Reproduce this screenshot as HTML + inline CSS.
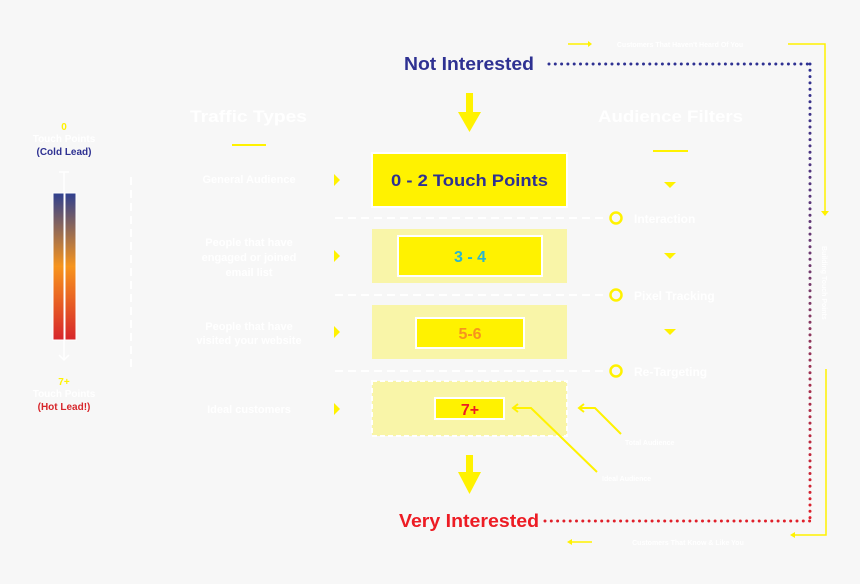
<!DOCTYPE html>
<html><head><meta charset="utf-8"><style>
html,body{margin:0;padding:0;background:#f7f7f7}
svg{display:block}
text{font-family:"Liberation Sans",sans-serif;font-weight:bold}
</style></head><body>
<svg width="860" height="584" viewBox="0 0 860 584" xmlns="http://www.w3.org/2000/svg">
<defs>
<linearGradient id="bar" x1="0" y1="0" x2="0" y2="1">
<stop offset="0" stop-color="#2e3f8f"/><stop offset="0.5" stop-color="#f7941d"/><stop offset="1" stop-color="#d7262b"/>
</linearGradient>
<linearGradient id="vd" gradientUnits="userSpaceOnUse" x1="0" y1="64" x2="0" y2="521">
<stop offset="0" stop-color="#2e3192"/><stop offset="0.5" stop-color="#7a3c6a"/><stop offset="1" stop-color="#e0202a"/>
</linearGradient>
</defs>
<rect width="860" height="584" fill="#f7f7f7"/>

<line x1="549" y1="64" x2="810" y2="64" stroke="#2e3192" stroke-width="3" stroke-dasharray="0 6.3" stroke-linecap="round"/>
<line x1="810" y1="64" x2="810" y2="521" stroke="url(#vd)" stroke-width="3" stroke-dasharray="0 6.3" stroke-linecap="round"/>
<line x1="545" y1="521" x2="810" y2="521" stroke="#e0202a" stroke-width="3" stroke-dasharray="0 6.3" stroke-linecap="round"/>

<text x="404" y="70" font-size="18" fill="#2e3192" textLength="130" lengthAdjust="spacingAndGlyphs">Not Interested</text>
<text x="399" y="527" font-size="18" fill="#ed1c24" textLength="140" lengthAdjust="spacingAndGlyphs">Very Interested</text>

<g fill="#fff200">
<rect x="466" y="93" width="7" height="24"/><polygon points="458,112 481,112 469.5,132"/>
<rect x="466" y="455" width="7" height="22"/><polygon points="458,472 481,472 469.5,494"/>
</g>

<text x="190" y="122" font-size="17" fill="#ffffff" textLength="117" lengthAdjust="spacingAndGlyphs">Traffic Types</text>
<text x="598" y="122" font-size="17" fill="#ffffff" textLength="145" lengthAdjust="spacingAndGlyphs">Audience Filters</text>
<rect x="232" y="144" width="34" height="2" fill="#fff200"/>
<rect x="653" y="150" width="35" height="2" fill="#fff200"/>

<g font-size="11" fill="#ffffff" text-anchor="middle">
<text x="249" y="183">General Audience</text>
<text x="249" y="246">People that have</text>
<text x="249" y="261">engaged or joined</text>
<text x="249" y="276">email list</text>
<text x="249" y="330">People that have</text>
<text x="249" y="344">visited your website</text>
<text x="249" y="413">Ideal customers</text>
</g>
<g fill="#fff200">
<polygon points="334,174 340,180 334,186"/>
<polygon points="334,250 340,256 334,262"/>
<polygon points="334,326 340,332 334,338"/>
<polygon points="334,403 340,409 334,415"/>
</g>

<g stroke="#ffffff" stroke-width="2" stroke-dasharray="8 5">
<line x1="335" y1="218" x2="606" y2="218"/>
<line x1="335" y1="295" x2="606" y2="295"/>
<line x1="335" y1="371" x2="606" y2="371"/>
<line x1="131" y1="177" x2="131" y2="368"/>
</g>

<rect x="372" y="153" width="195" height="54" fill="#fff200" stroke="#fff" stroke-width="2"/>
<text x="391" y="186" font-size="17" fill="#2e3192" textLength="157" lengthAdjust="spacingAndGlyphs">0 - 2 Touch Points</text>

<rect x="372" y="229" width="195" height="54" fill="#f9f5a8"/>
<rect x="398" y="236" width="144" height="40" fill="#fff200" stroke="#fff" stroke-width="2"/>
<text x="470" y="262" font-size="16" fill="#29b6d1" text-anchor="middle">3 - 4</text>

<rect x="372" y="305" width="195" height="54" fill="#f9f5a8"/>
<rect x="416" y="318" width="108" height="30" fill="#fff200" stroke="#fff" stroke-width="2"/>
<text x="470" y="339" font-size="16" fill="#f7941d" text-anchor="middle">5-6</text>

<rect x="372" y="381" width="195" height="55" fill="#f9f5a8" stroke="#fff" stroke-width="2" stroke-dasharray="5 3"/>
<rect x="435" y="398" width="69" height="21" fill="#fff200" stroke="#fff" stroke-width="2"/>
<text x="470" y="415" font-size="16" fill="#ed1c24" text-anchor="middle">7+</text>

<g fill="none" stroke="#fff200" stroke-width="2.5">
<circle cx="616" cy="218" r="5.5"/><circle cx="616" cy="295" r="5.5"/><circle cx="616" cy="371" r="5.5"/>
</g>
<g font-size="12" fill="#ffffff">
<text x="634" y="223">Interaction</text>
<text x="634" y="300">Pixel Tracking</text>
<text x="634" y="376">Re-Targeting</text>
</g>
<g fill="#fff200">
<polygon points="664,182 676,182 670,188"/>
<polygon points="664,253 676,253 670,259"/>
<polygon points="664,329 676,329 670,335"/>
</g>

<g fill="none" stroke="#fff200" stroke-width="2">
<polyline points="580,408 595,408 621,434"/>
<polyline points="584,404 579,408 584,412"/>
<polyline points="514,408 531,408 597,472"/>
<polyline points="518,404 513,408 518,412"/>
</g>
<text x="625" y="445" font-size="7" fill="#ffffff">Total Audience</text>
<text x="602" y="481" font-size="7" fill="#ffffff">Ideal Audience</text>

<g stroke="#fff200" stroke-width="1.5" fill="none">
<line x1="568" y1="44" x2="590" y2="44"/>
<polyline points="788,44 825,44 825,212"/>
<polyline points="826,369 826,535 792,535"/>
<line x1="569" y1="542" x2="592" y2="542"/>
</g>
<g fill="#fff200">
<polygon points="588,41 592,44 588,47"/>
<polygon points="821,211 829,211 825,216"/>
<polygon points="795,532 795,538 790,535"/>
<polygon points="572,539 572,545 567,542"/>
</g>
<text x="680" y="47" font-size="7" fill="#ffffff" text-anchor="middle">Customers That Haven't Heard Of You</text>
<text x="688" y="545" font-size="7" fill="#ffffff" text-anchor="middle">Customers That Know &amp; Like You</text>
<text x="0" y="0" font-size="7" fill="#ffffff" transform="translate(822,246) rotate(90)">Building Touch Points</text>

<text x="64" y="130" font-size="10" fill="#fff200" text-anchor="middle">0</text>
<text x="64" y="142" font-size="10" fill="#ffffff" text-anchor="middle">Touch Points</text>
<text x="64" y="155" font-size="10" fill="#2e3192" text-anchor="middle">(Cold Lead)</text>
<line x1="64" y1="172" x2="64" y2="360" stroke="#fff" stroke-width="1.5"/>
<line x1="59" y1="172" x2="69" y2="172" stroke="#fff" stroke-width="1.5"/>
<polyline points="59,355 64,360 69,355" stroke="#fff" stroke-width="1.5" fill="none"/>
<rect x="53" y="193" width="11" height="147" fill="url(#bar)" stroke="#fff" stroke-width="1"/>
<rect x="65" y="193" width="11" height="147" fill="url(#bar)" stroke="#fff" stroke-width="1"/>
<text x="64" y="385" font-size="10" fill="#fff200" text-anchor="middle">7+</text>
<text x="64" y="397" font-size="10" fill="#ffffff" text-anchor="middle">Touch Points</text>
<text x="64" y="410" font-size="10" fill="#d7262b" text-anchor="middle">(Hot Lead!)</text>
</svg>
</body></html>
